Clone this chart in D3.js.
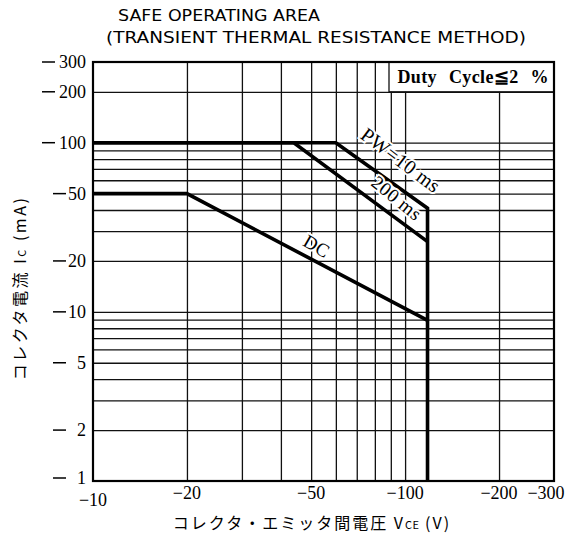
<!DOCTYPE html>
<html>
<head>
<meta charset="utf-8">
<script src="https://cdn.jsdelivr.net/npm/d3@7"></script>
<style>
  body { margin: 0; background: #fff; }
  svg { display: block; }
</style>
</head>
<body>
<div id="chart"></div>
<script>
// tick labels and grid positions
const xTicks = [10, 20, 50, 100, 200, 300];
const yTicks = [300, 200, 100, 50, 20, 10, 5, 2, 1];
const gridV = [20, 30, 40, 50, 60, 70, 80, 90, 100, 200];
const gridH = [2, 3, 4, 5, 6, 7, 8, 9, 10, 20, 30, 40, 50, 60, 70, 80, 90, 100, 200];

// SOA curves: [VCE (V), IC (mA)]
const pw10 = [[10, 100], [60, 100], [118, 41], [118, 1]];
const pw200 = [[10, 100], [44, 100], [118, 26]];
const dc = [[10, 50], [20, 50], [118, 8.9]];

const curveLabels = [
  { text: "PW=10 ms", v: 97, i: 79, angle: 37, size: 20, ls: 0.5 },
  { text: "200 ms", v: 94, i: 47, angle: 39, size: 19, ls: 0.5 },
  { text: "DC", v: 52, i: 24.5, angle: 30, size: 19, ls: 0 }
];

let W = 582, H = 536;
let m = { left: 93, right: 28, top: 62, bottom: 55 };
let gw = W - m.left - m.right, gh = H - m.top - m.bottom;

let svg = d3.select("#chart").append("svg").attr("width", W).attr("height", H);
let g = svg.append("g").attr("transform", `translate(${m.left},${m.top})`);

let x = d3.scaleLog().domain([10, 300]).range([0, gw]);
let y = d3.scaleLog().domain([1, 300]).range([gh, 0]);

// grid
g.append("g").attr("transform", `translate(0,${gh})`)
  .call(d3.axisBottom(x).tickValues(gridV).tickSize(gh).tickSizeOuter(0).tickFormat(""))
  .call(a => a.select(".domain").remove())
  .selectAll("line").attr("transform", `translate(0,${-gh})`).attr("y2", gh)
  .attr("stroke", "#111").attr("stroke-width", 1.3);
g.append("g")
  .call(d3.axisLeft(y).tickValues(gridH).tickSize(-gw).tickSizeOuter(0).tickFormat(""))
  .call(a => a.select(".domain").remove())
  .selectAll("line").attr("stroke", "#111").attr("stroke-width", 1.3);

// duty cycle box
let bx = 296;
g.append("rect").attr("x", bx).attr("y", 0).attr("width", gw - bx).attr("height", y(200))
  .attr("fill", "#fff").attr("stroke", "#111").attr("stroke-width", 1.3);
g.append("text").attr("x", gw - 5).attr("y", 21).attr("text-anchor", "end")
  .style("font-family", "'Liberation Serif', 'DejaVu Serif', serif")
  .style("font-size", "18px").style("font-weight", "bold").style("word-spacing", "7px")
  .style("letter-spacing", "0.4px")
  .text("Duty Cycle≦2 %");

// frame
g.append("rect").attr("width", gw).attr("height", gh)
  .attr("fill", "none").attr("stroke", "#000").attr("stroke-width", 2.2);

// curves
let line = d3.line().x(d => x(d[0])).y(d => y(d[1]));
[pw10, pw200, dc].forEach(c => {
  g.append("path").datum(c).attr("d", line)
    .attr("fill", "none").attr("stroke", "#000").attr("stroke-width", 3.6)
    .attr("stroke-linejoin", "miter");
});

// curve labels
curveLabels.forEach(l => {
  g.append("text")
    .attr("transform", `translate(${x(l.v)},${y(l.i)}) rotate(${l.angle})`)
    .attr("text-anchor", "middle").attr("dominant-baseline", "central")
    .style("font-family", "'Liberation Serif', 'DejaVu Serif', serif")
    .style("font-size", l.size + "px").style("letter-spacing", l.ls + "px")
    .style("paint-order", "stroke").style("stroke", "#fff").style("stroke-width", 4)
    .text(l.text);
});

// y tick labels
let tickFont = "'Liberation Serif', 'DejaVu Serif', serif";
yTicks.forEach(t => {
  let s = String(t);
  let ty = m.top + y(t);
  svg.append("text").attr("x", 86).attr("y", t === 1 ? ty + 3 : ty + 6).attr("text-anchor", "end")
    .style("font-family", tickFont).style("font-size", "18px").text(s);
  let dx = s.length === 3 ? 42 : 53;
  svg.append("line").attr("x1", dx).attr("x2", dx + 13).attr("y1", t === 1 ? ty - 3 : ty).attr("y2", t === 1 ? ty - 3 : ty)
    .attr("stroke", "#000").attr("stroke-width", 1.5);
});

// x tick labels
xTicks.forEach(t => {
  let tx = m.left + x(t);
  if (t === 300) tx -= 8;
  svg.append("text").attr("x", tx).attr("y", t === 10 ? 506 : 499).attr("text-anchor", "middle")
    .style("font-family", tickFont).style("font-size", "18px").text("\u2212" + t);
});

// titles
let tf = "'DejaVu Sans', 'Liberation Sans', sans-serif";
svg.append("text").attr("x", 118).attr("y", 21).attr("textLength", 202).attr("lengthAdjust", "spacingAndGlyphs")
  .style("font-family", tf).style("font-size", "15px").text("SAFE OPERATING AREA");
svg.append("text").attr("x", 106).attr("y", 43).attr("textLength", 420).attr("lengthAdjust", "spacingAndGlyphs")
  .style("font-family", tf).style("font-size", "15px").text("(TRANSIENT THERMAL RESISTANCE METHOD)");

// axis titles
let jf = "'Noto Sans CJK JP', sans-serif";
let yt = svg.append("text").attr("transform", "translate(26,288) rotate(-90)")
  .attr("text-anchor", "middle")
  .style("font-family", jf).style("font-size", "16px").style("letter-spacing", "2.5px");
yt.append("tspan").text("コレクタ電流  I");
yt.append("tspan").attr("font-size", "11px").text("C");
yt.append("tspan").text("  (mA)");

let xt = svg.append("text").attr("x", 312).attr("y", 529).attr("text-anchor", "middle")
  .style("font-family", jf).style("font-size", "16px").style("letter-spacing", "2px");
xt.append("tspan").text("コレクタ・エミッタ間電圧  V");
xt.append("tspan").attr("font-size", "11px").attr("letter-spacing", "0.5px").text("CE");
xt.append("tspan").text("  (V)");
</script>
</body>
</html>
